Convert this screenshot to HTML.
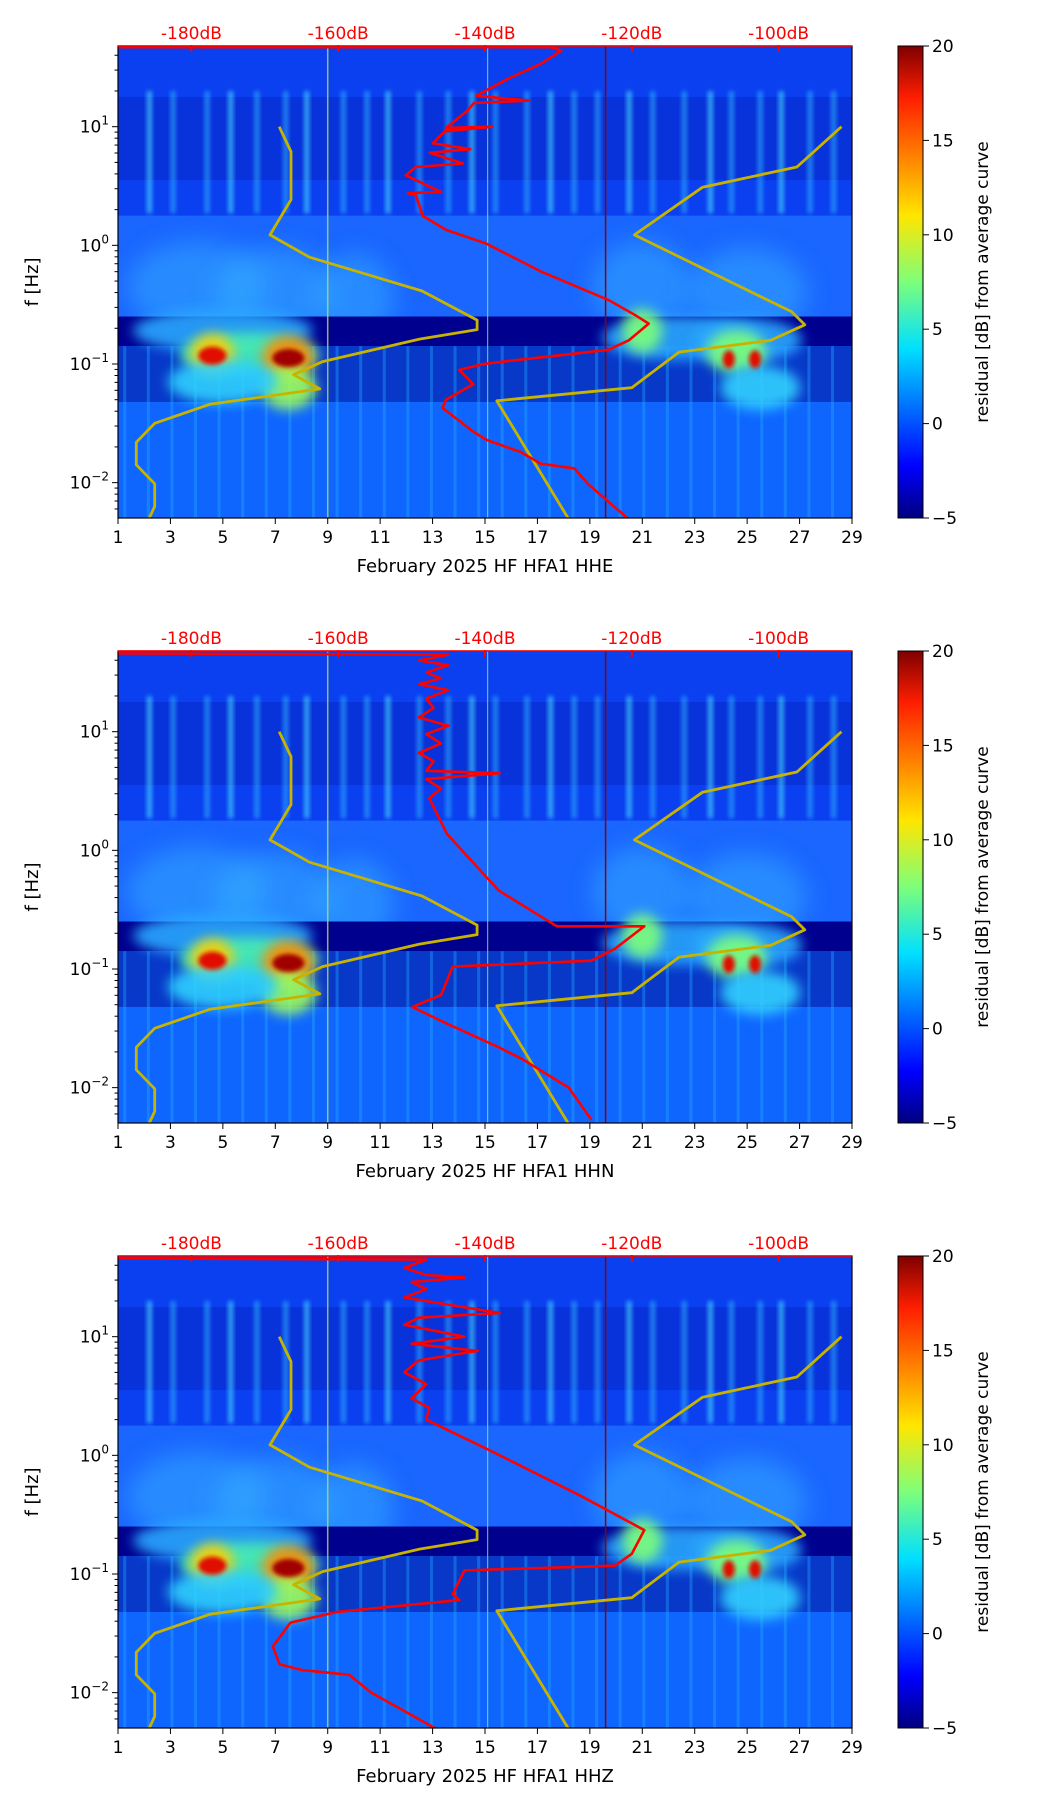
<!DOCTYPE html>
<html><head><meta charset="utf-8">
<style>
html,body{margin:0;padding:0;background:#fff;}
svg{display:block;font-family:"DejaVu Sans","Liberation Sans",sans-serif;}
</style></head>
<body>
<svg id="fig" width="1052" height="1806" viewBox="0 0 1052 1806" xmlns="http://www.w3.org/2000/svg">
<defs>
<linearGradient id="jet" x1="0" y1="1" x2="0" y2="0">
<stop offset="0" stop-color="#00007f"/><stop offset="0.11" stop-color="#0000ff"/>
<stop offset="0.36" stop-color="#00e0ff"/><stop offset="0.5" stop-color="#7dff7a"/>
<stop offset="0.64" stop-color="#ffe600"/><stop offset="0.89" stop-color="#ff1e00"/>
<stop offset="1" stop-color="#7f0000"/></linearGradient>
<filter id="blur6" x="-50%" y="-50%" width="200%" height="200%"><feGaussianBlur stdDeviation="6"/></filter>
<filter id="blur3" x="-50%" y="-50%" width="200%" height="200%"><feGaussianBlur stdDeviation="2"/></filter>
<filter id="blur12" x="-50%" y="-50%" width="200%" height="200%"><feGaussianBlur stdDeviation="12"/></filter>
</defs>
</svg>
<script>
// ---- data ----
const dayTicks = [1,3,5,7,9,11,13,15,17,19,21,23,25,27,29];
const dbTicks = [-180,-160,-140,-120,-100];
const cbTicks = [-5,0,5,10,15,20];
const channels = ["HHE","HHN","HHZ"];
// yellow reference curve (day, log10 f)
const yelA_day = [7.15,7.6,7.6,6.8,8.3,12.6,14.7,14.7,12.5,8.8,7.7,8.7,4.5,2.4,1.7,1.7,2.4,2.4,2.15];
const yelA_logf = [1,0.79,0.385,0.088,-0.10,-0.385,-0.63,-0.71,-0.79,-0.98,-1.09,-1.21,-1.34,-1.5,-1.66,-1.85,-2.01,-2.2,-2.32];
const yelB_day = [18.2,15.45,20.6,22.4,25.9,27.2,26.7,20.7,23.3,26.9,28.6];
const yelB_logf = [-2.31,-1.31,-1.2,-0.9,-0.8,-0.67,-0.56,0.088,0.49,0.66,1];
// red PSD curves (dB, log10 f)
const redE_db = [-190,-131,-129.6,-132.4,-137,-141.2,-134,-141.5,-142.5,-145.3,-139,-145.5,-147.1,-142,-147.5,-143,-149.4,-150.8,-146,-150.5,-149.4,-148.5,-145.3,-139.8,-132.4,-123.2,-119.5,-117.7,-120.4,-123.2,-136.1,-140.2,-143.5,-141.6,-145.3,-145.8,-141.6,-139.8,-135.2,-132.4,-127.8,-126,-120.4];
const redE_logf = [1.67,1.67,1.64,1.53,1.40,1.26,1.22,1.20,1.13,0.99,1.0,0.96,0.86,0.81,0.78,0.69,0.66,0.59,0.45,0.44,0.42,0.25,0.13,0.014,-0.22,-0.46,-0.59,-0.66,-0.80,-0.88,-0.97,-1.0,-1.05,-1.17,-1.3,-1.37,-1.57,-1.64,-1.74,-1.84,-1.88,-2.01,-2.31];
const redN_db = [-190,-145,-149,-145,-148,-146,-149,-145,-148,-147,-149,-145,-148,-146,-149,-147,-148,-138,-148,-146,-147.6,-145.2,-138.1,-130.2,-118.3,-122.3,-125.5,-144.4,-146,-149.9,-145.2,-138.1,-134.9,-128.6,-125.5];
const redN_logf = [1.66,1.65,1.60,1.56,1.50,1.45,1.40,1.35,1.28,1.20,1.12,1.05,0.98,0.90,0.82,0.75,0.67,0.65,0.60,0.52,0.44,0.14,-0.34,-0.64,-0.64,-0.83,-0.93,-0.98,-1.22,-1.32,-1.46,-1.66,-1.76,-2.0,-2.27];
const redZ_db = [-190,-148,-151,-148,-142.8,-150,-148,-151,-138,-149,-151,-142.8,-150,-141,-149,-151,-148,-150,-147.6,-148,-139.6,-127,-118.3,-120,-122.3,-142.8,-144.4,-143.5,-160.2,-166.5,-168.9,-168,-164.9,-158.5,-155.5,-146.8];
const redZ_logf = [1.66,1.65,1.58,1.52,1.50,1.46,1.40,1.33,1.20,1.16,1.10,1.0,0.94,0.88,0.80,0.70,0.60,0.48,0.40,0.30,0.05,-0.34,-0.63,-0.83,-0.93,-0.97,-1.17,-1.22,-1.32,-1.41,-1.61,-1.76,-1.81,-1.85,-2.0,-2.3];
const redDb = [redE_db, redN_db, redZ_db];
const redLogf = [redE_logf, redN_logf, redZ_logf];
// background texture features (days with bright vertical streaks)
const stripeDays = [2.2,3.1,4.4,5.3,6.3,7.4,8.2,9.6,10.5,11.3,12.5,13.6,14.5,15.4,16.6,17.5,18.4,19.3,20.5,21.4,22.6,23.6,24.4,25.5,26.3,27.4,28.3];

const NS = "http://www.w3.org/2000/svg";
const svg = document.getElementById("fig");
const L = 118, R = 852, H = 472, LOGMAX = 1.68, LOGMIN = -2.298;
function el(tag, attrs, parent){ const e=document.createElementNS(NS,tag); for(const k in attrs) e.setAttribute(k,attrs[k]); (parent||svg).appendChild(e); return e; }
function xDay(d){ return L + (d-1)/28*(R-L); }
function xDb(db){ return L + (db+190)/100*(R-L); }

for(let p=0;p<3;p++){
  const T = 46 + 605*p;
  const yL = lf => T + (LOGMAX-lf)/(LOGMAX-LOGMIN)*H;
  const g = el("g",{});
  
  
  const cid = "clip"+p;
  const cp = el("clipPath",{id:cid},g); el("rect",{x:L,y:T,width:R-L,height:H},cp);
  const bg = el("g",{"clip-path":"url(#"+cid+")"},g);
  
  
  // regions
  el("rect",{x:L,y:T,width:R-L,height:H,fill:"#0a5cff"},bg);
  el("rect",{x:L,y:yL(1.68),width:R-L,height:yL(0.25)-yL(1.68),fill:"#0a40f0"},bg);
  el("rect",{x:L,y:yL(1.25),width:R-L,height:yL(0.55)-yL(1.25),fill:"#0828c8",opacity:0.55},bg);
  el("rect",{x:L,y:yL(0.25),width:R-L,height:yL(-0.6)-yL(0.25),fill:"#1a66ff"},bg);
  // clouds in middle
  [[4,-0.35,70],[7,-0.4,60],[21,-0.35,50],[25,-0.4,60],[10,-0.45,40]].forEach(c=>{
    el("ellipse",{cx:xDay(c[0]),cy:yL(c[1]),rx:c[2],ry:45,fill:"#35b0ff",opacity:0.5,filter:"url(#blur12)"},bg);
  });
  // stripes
  stripeDays.forEach((d,i)=>{
    el("rect",{x:xDay(d)-2.5,y:yL(1.3),width:5,height:yL(0.27)-yL(1.3),fill:(i%3==0)?"#50f0ff":"#30b8ff",opacity:0.6,filter:"url(#blur3)"},bg);
  });
  // dark band
  el("rect",{x:L,y:yL(-0.6),width:R-L,height:yL(-0.85)-yL(-0.6),fill:"#00008f"},bg);
  el("rect",{x:L,y:yL(-0.85),width:R-L,height:yL(-1.32)-yL(-0.85),fill:"#0838c8"},bg);
  el("rect",{x:L,y:yL(-1.32),width:R-L,height:yL(-2.3)-yL(-1.32),fill:"#0f66ff"},bg);
  for(let d=1.2; d<29; d+=0.9){
    el("rect",{x:xDay(d),y:yL(-0.85),width:3,height:yL(-2.3)-yL(-0.85),fill:"#20a8ff",opacity:0.4},bg);
  }
  // blobs
  [[5,-0.72,90,"#2aa8ff"],[22.5,-0.78,80,"#2aa8ff"],[25,-0.8,55,"#2aa8ff"],[6,-0.92,70,"#48f0b0"],[4.6,-0.93,22,"#ffd000"],[7.5,-0.95,26,"#ff8c00"],[7.5,-1.2,28,"#9cff60"],[5,-1.15,55,"#2fd0ff"],[24.6,-0.9,30,"#7dff7a"],[21,-0.72,20,"#7dff7a"],[25.5,-1.2,40,"#30d0ff"]].forEach(b=>{
    el("ellipse",{cx:xDay(b[0]),cy:yL(b[1]),rx:b[2],ry:22,fill:b[3],opacity:0.9,filter:"url(#blur6)"},bg);
  });
  [[4.6,-0.93,14,"#e01000"],[7.5,-0.95,16,"#a00000"],[24.3,-0.96,6,"#e01000"],[25.3,-0.96,6,"#e01000"]].forEach(b=>{
    el("ellipse",{cx:xDay(b[0]),cy:yL(b[1]),rx:b[2],ry:9,fill:b[3],filter:"url(#blur3)"},bg);
  });
  // vertical lines
  el("line",{x1:xDay(19.6),y1:T,x2:xDay(19.6),y2:T+H,stroke:"#8b0000","stroke-width":1.5},bg);
  el("line",{x1:xDay(9),y1:T,x2:xDay(9),y2:T+H,stroke:"#b8e060","stroke-width":1.5,opacity:0.8},bg);
  el("line",{x1:xDay(15.1),y1:T,x2:xDay(15.1),y2:T+H,stroke:"#80ff80","stroke-width":1.2,opacity:0.7},bg);
  // yellow curves
  [[yelA_day,yelA_logf],[yelB_day,yelB_logf]].forEach((c,i)=>{
    const pts = c[0].map((d,j)=>xDay(d).toFixed(1)+","+yL(c[1][j]).toFixed(1)).join(" ");
    const pl = el("polyline",{points:pts,fill:"none",stroke:"#c8b400","stroke-width":2.8,"stroke-linejoin":"round"},bg);
    
    
  });
  // red curve
  const pts = redDb[p].map((db,j)=>xDb(db).toFixed(1)+","+yL(redLogf[p][j]).toFixed(1)).join(" ");
  const rl = el("polyline",{points:pts,fill:"none",stroke:"#ff0000","stroke-width":2.6,"stroke-linejoin":"round"},bg);
  
  
  // frame
  el("rect",{x:L,y:T,width:R-L,height:H,fill:"none",stroke:"#000","stroke-width":1.2},g);
  // x ticks
  dayTicks.forEach(d=>{
    el("line",{x1:xDay(d),y1:T+H,x2:xDay(d),y2:T+H+6,stroke:"#000","stroke-width":1},g);
    const t = el("text",{x:xDay(d),y:T+H+25,"font-size":17,"text-anchor":"middle",fill:"#000"},g);
    t.textContent = d;
    
    
  });
  const xl = el("text",{x:485,y:T+H+54,"font-size":18,"text-anchor":"middle",fill:"#000"},g);
  xl.textContent = "February 2025 HF HFA1  "+channels[p];
  
  
  // y ticks
  for(let e=-3;e<=1;e++){
    for(let m=1;m<10;m++){
      const lf = e + Math.log10(m);
      if(lf<LOGMIN||lf>LOGMAX) continue;
      el("line",{x1:L-(m==1?6:3.5),y1:yL(lf),x2:L,y2:yL(lf),stroke:"#000","stroke-width":1},g);
    }
    if(e>=-2){
      const t = el("text",{x:L-9,y:yL(e)+6,"font-size":17,"text-anchor":"end",fill:"#000"},g);
      
      
      const a = el("tspan",{},t); a.textContent = "10";
      const s = el("tspan",{"font-size":12,dy:-8},t);
      s.textContent = e<0 ? "\u2212"+(-e) : ""+e;
    }
  }
  const yl = el("text",{x:0,y:0,"font-size":18,"text-anchor":"middle",fill:"#000",transform:"translate(38,"+(T+H/2)+") rotate(-90)"},g);
  yl.textContent = "f [Hz]";
  
  
  // top dB axis
  el("line",{x1:L,y1:T,x2:R,y2:T,stroke:"#ff0000","stroke-width":1.5},g);
  dbTicks.forEach(db=>{
    el("line",{x1:xDb(db),y1:T-1,x2:xDb(db),y2:T+6,stroke:"#ff0000","stroke-width":2},g);
    const t = el("text",{x:xDb(db),y:T-7,"font-size":17,"text-anchor":"middle",fill:"#ff0000"},g);
    t.textContent = db+"dB";
    
    
  });
  // colorbar
  const cb = el("rect",{x:898,y:T,width:25,height:H,fill:"url(#jet)",stroke:"#000","stroke-width":1},g);
  
  
  cbTicks.forEach(v=>{
    const y = T + H - (v+5)/25*H;
    el("line",{x1:923,y1:y,x2:929,y2:y,stroke:"#000","stroke-width":1},g);
    const t = el("text",{x:932,y:y+6,"font-size":17,fill:"#000"},g);
    t.textContent = v<0 ? "\u2212"+(-v) : v;
    
    
  });
  const cl = el("text",{x:0,y:0,"font-size":17,"text-anchor":"middle",fill:"#000",transform:"translate(988,"+(T+H/2)+") rotate(-90)"},g);
  cl.textContent = "residual [dB] from average curve";
  
  
}
</script>
</body></html>
